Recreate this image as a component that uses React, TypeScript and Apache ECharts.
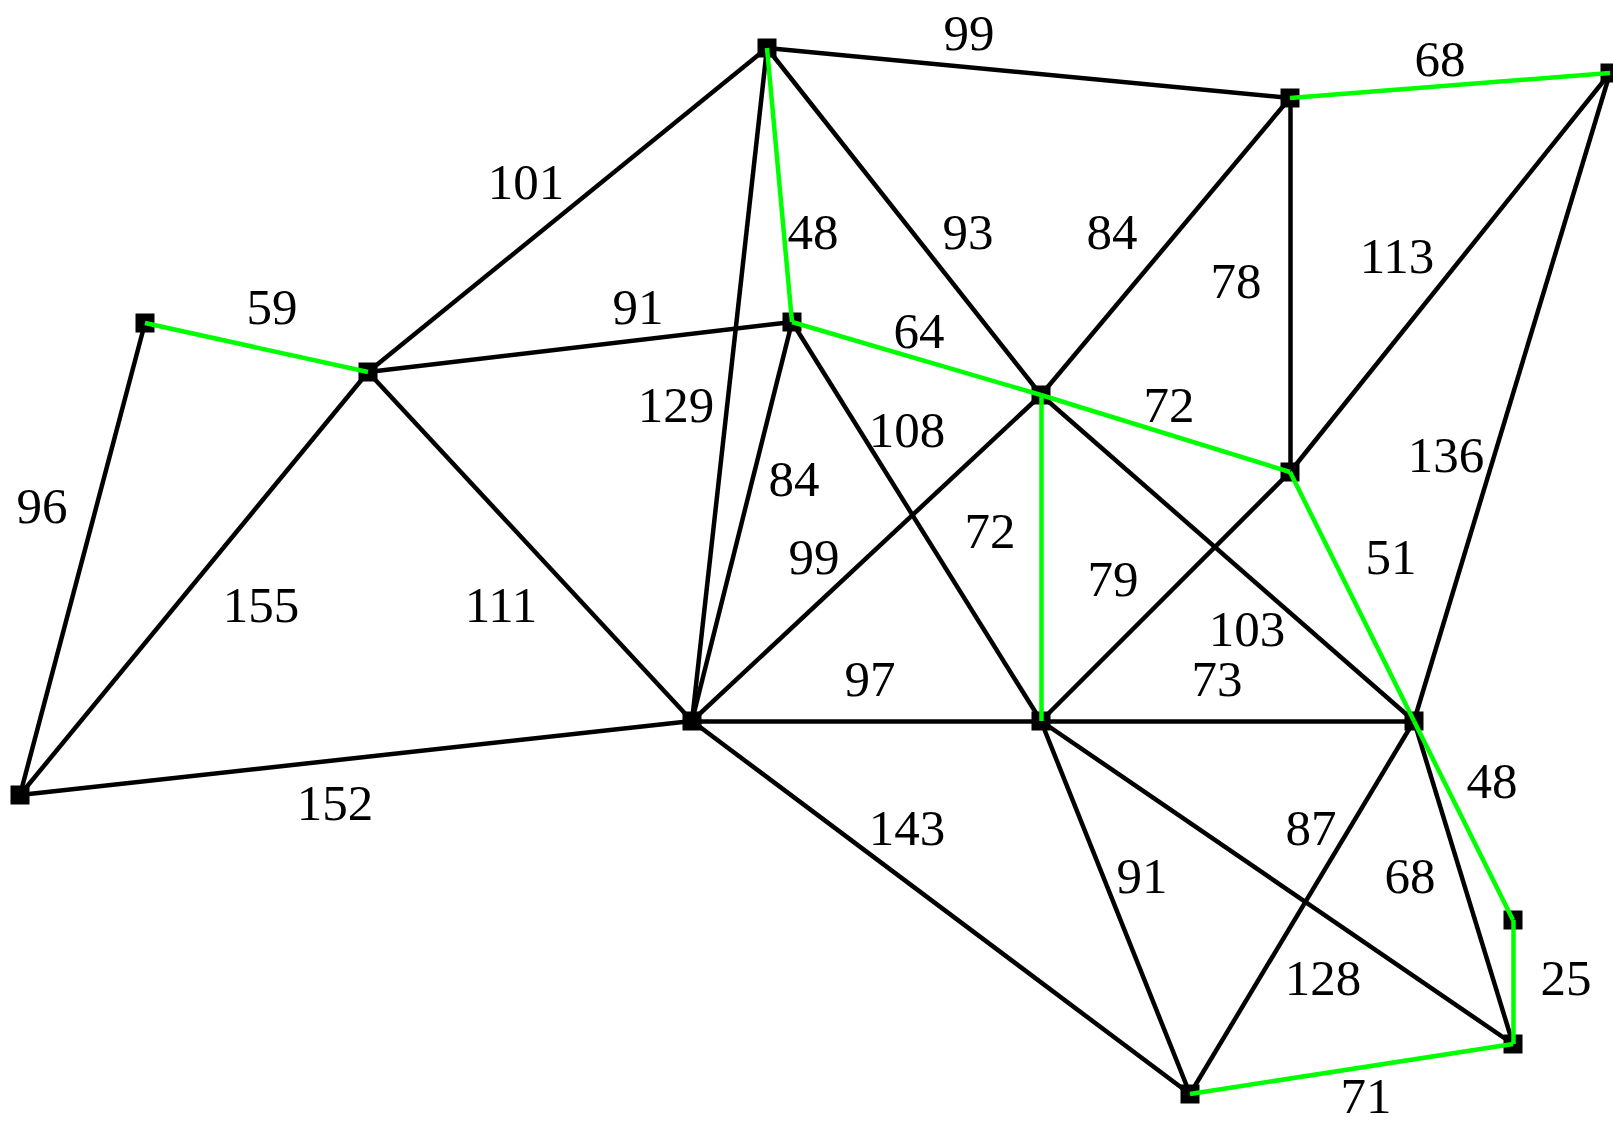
import React, { useEffect, useRef } from "react";
import * as echarts from "echarts";

// Graph nodes (layout coordinates in drawing units)
const nodeNames = ["A", "B", "C", "D", "E", "F", "G", "H", "I", "J", "K", "L", "M", "N", "O"];
const nodeX = [767, 1290, 1610, 145, 368, 792, 1041, 1290, 20, 692, 1041, 1414, 1513, 1513, 1190];
const nodeY = [48, 98, 73, 323, 372, 322, 395, 472, 795, 721, 721, 721, 920, 1044, 1094];

// Edges
const edgeFrom = ["A", "B", "A", "A", "A", "B", "B", "C", "D", "E", "F", "A", "F", "G", "C", "D", "F", "G", "G", "H", "H", "E", "E", "G", "K", "J", "L", "I", "J", "L", "K", "L", "M", "K", "N"];
const edgeTo = ["B", "C", "E", "F", "G", "G", "H", "H", "E", "F", "G", "J", "K", "H", "L", "I", "J", "J", "K", "K", "L", "I", "J", "L", "L", "K", "M", "J", "O", "O", "O", "N", "N", "N", "O"];
const edgeWeight = [99, 68, 101, 48, 93, 84, 78, 113, 59, 91, 64, 129, 108, 72, 136, 96, 84, 99, 72, 79, 51, 155, 111, 103, 73, 97, 48, 152, 143, 87, 91, 68, 25, 128, 71];
const edgeInTree = [false, true, false, true, false, false, false, false, true, false, true, false, false, true, false, false, false, false, true, false, true, false, false, false, false, false, true, false, false, false, false, false, true, false, true];
const labelX = [969, 1440, 526, 813, 968, 1112, 1236, 1397, 272, 638, 919, 676, 907, 1169, 1446, 42, 794, 814, 990, 1113, 1391, 261, 501, 1247, 1217, 870, 1492, 335, 907, 1311, 1142, 1410, 1566, 1323, 1366];
const labelY = [33, 59, 182, 232, 232, 232, 281, 256, 307, 307, 331, 405, 430, 405, 455, 506, 479, 557, 531, 579, 557, 605, 605, 629, 679, 679, 781, 803, 828, 828, 876, 876, 978, 978, 1096];

const W = 1613;
const H = 1125;

function pos(name: string): [number, number] {
  const i = nodeNames.indexOf(name);
  return [nodeX[i], nodeY[i]];
}

export default function App() {
  const ref = useRef<HTMLDivElement>(null);
  useEffect(() => {
    if (!ref.current) return;
    const chart = echarts.init(ref.current, undefined, { renderer: "svg" });
    const blackEdges: any[] = [];
    const greenEdges: any[] = [];
    edgeFrom.forEach((f, i) => {
      const item = { coords: [pos(f), pos(edgeTo[i])] };
      if (edgeInTree[i]) greenEdges.push(item);
      else blackEdges.push(item);
    });
    chart.setOption({
      animation: false,
      backgroundColor: "#ffffff",
      grid: { left: 0, right: 0, top: 0, bottom: 0 },
      xAxis: { type: "value", min: 0, max: W, show: false },
      yAxis: { type: "value", min: 0, max: H, inverse: true, show: false },
      series: [
        {
          type: "scatter",
          silent: true,
          symbol: "rect",
          symbolSize: 19,
          itemStyle: { color: "#000000", opacity: 1 },
          data: nodeNames.map((_, i) => [nodeX[i], nodeY[i]]),
          z: 1,
        },
        {
          type: "lines",
          coordinateSystem: "cartesian2d",
          silent: true,
          lineStyle: { color: "#000000", width: 4.5, opacity: 1 },
          data: blackEdges,
          z: 2,
        },
        {
          type: "lines",
          coordinateSystem: "cartesian2d",
          silent: true,
          lineStyle: { color: "#00ff00", width: 4.5, opacity: 1 },
          data: greenEdges,
          z: 3,
        },
        {
          type: "scatter",
          silent: true,
          symbolSize: 0,
          itemStyle: { opacity: 1 },
          data: edgeWeight.map((w, i) => ({ name: String(w), value: [labelX[i], labelY[i]] })),
          label: {
            show: true,
            position: "inside",
            formatter: "{b}",
            color: "#000000",
            opacity: 1,
            fontFamily: "Liberation Serif",
            fontSize: 51,
            lineHeight: 42,
          },
          z: 4,
        },
      ],
    });
    return () => chart.dispose();
  }, []);
  return (
    <div
      ref={ref}
      style={{ position: "fixed", left: 0, top: 0, width: W, height: H, background: "#fff" }}
    />
  );
}
